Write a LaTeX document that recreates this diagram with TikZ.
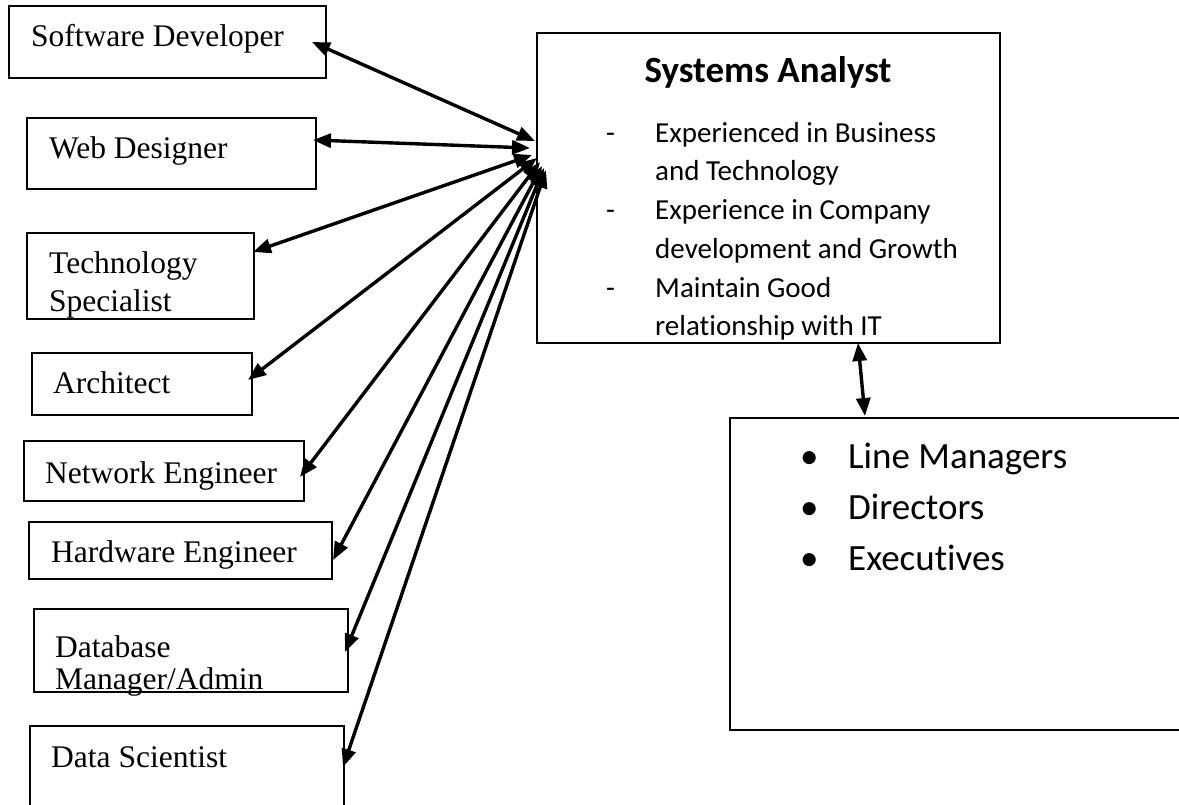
\documentclass[tikz,border=0pt]{standalone}
\usepackage{fontspec}
\setmainfont{Liberation Serif}
\newfontfamily\calibri[Ligatures={NoCommon}]{Carlito}
\usetikzlibrary{arrows.meta,calc}

\begin{document}
\begin{tikzpicture}[x=1pt,y=-1pt,
  rolebox/.style={draw, line width=1.7pt, inner sep=0pt, outer sep=0pt, anchor=north west},
  rolelabel/.style={anchor=base west, inner sep=0pt, font=\fontsize{31.5}{38}\selectfont},
  satext/.style={anchor=base west, inner sep=0pt, font=\calibri\fontsize{29}{38}\selectfont},
  dashmark/.style={anchor=base west, inner sep=0pt, font=\calibri\fontsize{29}{38}\selectfont},
  mgtext/.style={anchor=base west, inner sep=0pt, font=\calibri\fontsize{37}{50}\selectfont},
  link/.style={line width=3.4pt, {Triangle[length=18pt,width=14pt]}-{Triangle[length=18pt,width=14pt]}}]

\clip (0,0) rectangle (1179,804);

% IT roles on the left
\node[rolebox, minimum width=317pt, minimum height=72pt] (sd) at (9,6) {};
\node[rolebox, minimum width=289pt, minimum height=71pt] (wd) at (27,118) {};
\node[rolebox, minimum width=227pt, minimum height=86pt] (ts) at (27,233) {};
\node[rolebox, minimum width=220pt, minimum height=62pt] (ar) at (32,353) {};
\node[rolebox, minimum width=280pt, minimum height=60pt] (ne) at (24,441) {};
\node[rolebox, minimum width=303pt, minimum height=57pt] (he) at (29,522) {};
\node[rolebox, minimum width=314pt, minimum height=83pt] (db) at (34,609) {};
\node[rolebox, minimum width=314pt, minimum height=104pt] (ds) at (30,726) {};

\node[rolelabel] (sd-l) at (31,46) {Software Developer};
\node[rolelabel] (wd-l) at (49,158) {Web Designer};
\node[rolelabel] (ts-l1) at (49,273) {Technology};
\node[rolelabel] (ts-l2) at (49,311) {Specialist};
\node[rolelabel] (ar-l) at (53,393) {Architect};
\node[rolelabel] (ne-l) at (45,483) {Network Engineer};
\node[rolelabel] (he-l) at (51,562) {Hardware Engineer};
\node[rolelabel] (db-l1) at (55,657) {Database};
\node[rolelabel] (db-l2) at (55,689) {Manager/Admin};
\node[rolelabel] (ds-l) at (51,767) {Data Scientist};

% Systems analyst
\node[rolebox, minimum width=463pt, minimum height=310pt] (sa) at (537,33) {};
\node[anchor=base, inner sep=0pt, font=\calibri\bfseries\fontsize{37}{44}\selectfont] (sa-title) at (768,82) {Systems Analyst};
\node[dashmark] (sa-d1) at (606,142) {-};
\node[dashmark] (sa-d2) at (606,219) {-};
\node[dashmark] (sa-d3) at (606,297) {-};
\node[satext] (sa-t1) at (655,142) {Experienced in Business};
\node[satext] (sa-t2) at (655,180) {and Technology};
\node[satext] (sa-t3) at (655,219) {Experience in Company};
\node[satext] (sa-t4) at (655,258) {development and Growth};
\node[satext] (sa-t5) at (655,297) {Maintain Good};
\node[satext] (sa-t6) at (655,335) {relationship with IT};

% Management
\node[rolebox, minimum width=470pt, minimum height=312pt] (mg) at (730,418) {};
\node[mgtext] (mg-b1) at (800,468) {•};
\node[mgtext] (mg-b2) at (800,519) {•};
\node[mgtext] (mg-b3) at (800,570) {•};
\node[mgtext] (mg-t1) at (848,468) {Line Managers};
\node[mgtext] (mg-t2) at (848,519) {Directors};
\node[mgtext] (mg-t3) at (848,570) {Executives};

% Two-way links
\draw[link] ($(sd.north east)+(-14,36)$) -- ($(sa.north west)+(-2,108)$);
\draw[link] ($(wd.north east)+(-3,22)$) -- ($(sa.north west)+(-7,115)$);
\draw[link] ($(ts.north east)+(-1,19)$) -- ($(sa.north west)+(-5,122)$);
\draw[link] ($(ar.north east)+(-4,27)$) -- ($(sa.north west)+(0,125)$);
\draw[link] ($(ne.north east)+(-4,36)$) -- ($(sa.north west)+(3,129)$);
\draw[link] ($(he.north east)+(1,38)$) -- ($(sa.north west)+(5,133)$);
\draw[link] ($(db.north east)+(-3,43)$) -- ($(sa.north west)+(7,135)$);
\draw[link] ($(ds.north east)+(-1,41)$) -- ($(sa.north west)+(9,137)$);
\draw[link] ($(sa.south west)+(321,0)$) -- ($(mg.north west)+(135,-2)$);
\end{tikzpicture}
\end{document}
